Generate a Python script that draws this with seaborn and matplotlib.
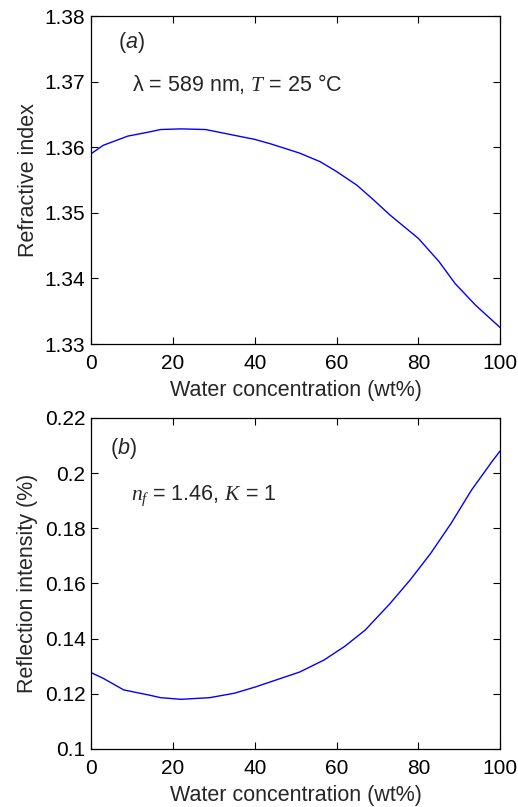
import numpy as np
import pandas as pd
import matplotlib
matplotlib.use('Agg')
import matplotlib.pyplot as plt
import seaborn as sns
from matplotlib.ticker import FuncFormatter

# Values
water_a = [0, 3, 9, 14, 17, 22, 28, 32, 36, 40, 44, 51, 56, 60, 65, 69, 73, 80, 85, 89, 94, 100]
refr_index = [1.3590, 1.3603, 1.3617, 1.3623, 1.3627, 1.3628, 1.3627, 1.3622, 1.3617, 1.3612, 1.3605, 1.3591,
              1.3578, 1.3563, 1.3542, 1.3520, 1.3497, 1.3461, 1.3426, 1.3392, 1.3359, 1.3325]
water_b = [0, 3, 8, 14, 17, 22, 29, 35, 40, 45, 51, 57, 62, 67, 73, 78, 83, 88, 93, 98, 100]
refl_intensity = [0.1277, 0.1256, 0.1214, 0.1196, 0.1186, 0.1180, 0.1186, 0.1202, 0.1224, 0.1249, 0.1279,
                  0.1323, 0.1372, 0.1431, 0.1526, 0.1613, 0.1709, 0.1818, 0.1939, 0.2042, 0.2081]
x_ticks = [0, 20, 40, 60, 80, 100]
y_ticks_a = [1.33, 1.34, 1.35, 1.36, 1.37, 1.38]
y_ticks_b = [0.10, 0.12, 0.14, 0.16, 0.18, 0.20, 0.22]

df_a = pd.DataFrame({'water': water_a, 'n': refr_index})
df_b = pd.DataFrame({'water': water_b, 'R': refl_intensity})

sns.set_style('ticks')
plt.rcParams['font.family'] = ['Liberation Sans', 'DejaVu Sans']
plt.rcParams['mathtext.fontset'] = 'custom'
plt.rcParams['mathtext.it'] = 'Liberation Serif:italic'
plt.rcParams['mathtext.rm'] = 'Liberation Sans'
plt.rcParams['mathtext.sf'] = 'Liberation Sans:italic'
plt.rcParams['xtick.direction'] = 'in'
plt.rcParams['ytick.direction'] = 'in'
plt.rcParams['xtick.top'] = True
plt.rcParams['ytick.right'] = True

fig = plt.figure(figsize=(5.18, 8.07), dpi=100)
ax1 = fig.add_axes([0.1757, 0.5737, 0.79, 0.4064])
ax2 = fig.add_axes([0.1757, 0.0719, 0.79, 0.4102])

fmt = FuncFormatter(lambda v, p: '%g' % round(v, 4))

sns.lineplot(data=df_a, x='water', y='n', ax=ax1, color='#0000ff', lw=1)
sns.lineplot(data=df_b, x='water', y='R', ax=ax2, color='#0000ff', lw=1)

for ax, yt, ylab in [(ax1, y_ticks_a, 'Refractive index'), (ax2, y_ticks_b, 'Reflection intensity (%)')]:
    ax.set_xlim(0, 100)
    ax.set_ylim(yt[0], yt[-1])
    ax.set_xticks(x_ticks)
    ax.set_yticks(yt)
    ax.xaxis.set_major_formatter(fmt)
    ax.yaxis.set_major_formatter(fmt)
    ax.tick_params(length=5, width=0.8, labelsize=15, colors='black')
    ax.tick_params(axis='x', pad=7.5)
    ax.tick_params(axis='y', pad=4)
    ax.set_xlabel('Water concentration (wt%)', fontsize=15.5, labelpad=4.5)
    ax.set_ylabel(ylab, fontsize=15.5, labelpad=4.5)
    for s in ax.spines.values():
        s.set_linewidth(0.9)
        s.set_color('black')

ax1.text(6.7, 1.376, r'($\mathsf{a}$)', fontsize=15.5, va='center')
ax1.text(10, 1.3697, r'λ = 589 nm, $T$ = 25 °C', fontsize=15.5, va='center')
ax2.text(4.6, 0.2091, r'($\mathsf{b}$)', fontsize=15.5, va='center')
ax2.text(9.8, 0.1918, r'$n_f$ = 1.46, $K$ = 1', fontsize=15.5, va='center')

fig.savefig('out.png', dpi=100)
